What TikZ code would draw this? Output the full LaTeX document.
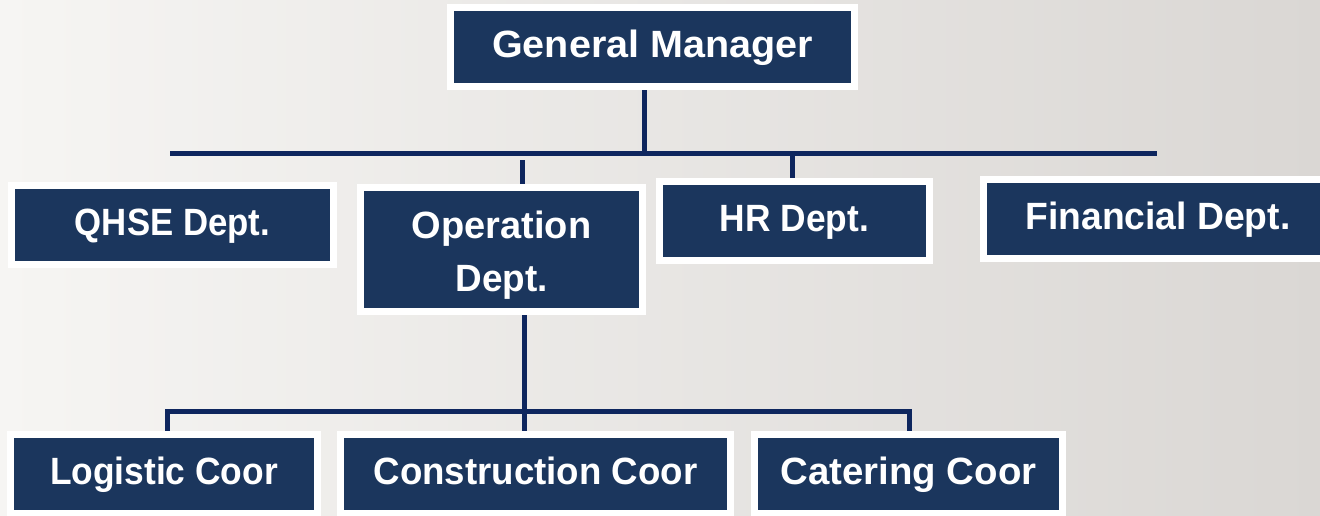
\documentclass[tikz,border=0pt]{standalone}
\usepackage{graphicx}
\usepackage{fontspec}
\setmainfont{Liberation Sans}
\usetikzlibrary{shadows}
\definecolor{navy}{RGB}{27,54,93}
\definecolor{linec}{RGB}{14,38,94}
\definecolor{bgl}{RGB}{246,245,243}
\definecolor{bgr}{RGB}{218,215,212}
\newcommand{\sx}[2]{\scalebox{#1}[1]{#2}}
\pgfdeclarelayer{back}
\pgfdeclarelayer{lines}
\pgfsetlayers{back,lines,main}
\begin{document}
\begin{tikzpicture}[x=1pt,y=-1pt,
  boxbase/.style={draw=white, line width=7pt, fill=navy, text=white, inner sep=0pt,
    font=\bfseries\fontsize{38}{53}\selectfont,
    drop shadow={opacity=0.3, shadow xshift=1.5pt, shadow yshift=-3pt}},
  box/.style={boxbase, text height=27pt, text depth=7pt},
  conn/.style={draw=linec, line width=5pt, line join=miter}]
\useasboundingbox (0,0) rectangle (1320,515);
\clip (0,0) rectangle (1320,515);
\begin{pgfonlayer}{back}
\shade[left color=bgl, right color=bgr] (0,0) rectangle (1320,515);
\end{pgfonlayer}

\node[box, minimum width=404pt, minimum height=79pt] (gm) at (652.5,47) {\sx{1.04}{General Manager}};
\node[box, minimum width=322pt, minimum height=79pt] (qhse) at (172.5,225) {\sx{0.915}{QHSE Dept.}};
\node[boxbase, minimum width=282pt, minimum height=124pt] (op) at (501.5,249.5)
  {\raisebox{0pt}[\height][\dimexpr\depth-9pt\relax]{\begin{tabular}{@{}c@{}}Operation\\\sx{0.97}{Dept.}\end{tabular}}};
\node[box, minimum width=270pt, minimum height=79pt] (hr) at (794.5,221) {\sx{0.93}{HR Dept.}};
\node[box, minimum width=349pt, minimum height=79pt] (fin) at (1158,219) {\sx{0.98}{Financial Dept.}};
\node[box, minimum width=307pt, minimum height=79pt] (log) at (164,474) {\sx{0.93}{Logistic Coor}};
\node[box, minimum width=390pt, minimum height=79pt] (cons) at (535.5,474) {\sx{0.965}{Construction Coor}};
\node[box, minimum width=308pt, minimum height=79pt] (cat) at (908.5,474) {\sx{1.01}{Catering Coor}};

\coordinate (gmdrop) at (644,153);
\coordinate (busL) at (170,153);
\coordinate (busR) at (1157,153);
\coordinate (opin) at (522,160);
\coordinate (hrin) at (792,153);
\coordinate (opout) at (524,411);
\coordinate (b2L) at (167,411);
\coordinate (b2R) at (909,411);

\begin{pgfonlayer}{lines}
\draw[conn] (gm.south -| gmdrop) -- (gmdrop);
\draw[conn] (busL) -- (busR);
\draw[conn] (opin) -- (opin |- op.north);
\draw[conn] (hrin) -- (hrin |- hr.north);
\draw[conn] (op.south -| opout) -- (opout |- cons.north);
\draw[conn] (log.north -| b2L) -- (b2L) -- (b2R) -- (b2R |- cat.north);
\end{pgfonlayer}
\end{tikzpicture}
\end{document}
